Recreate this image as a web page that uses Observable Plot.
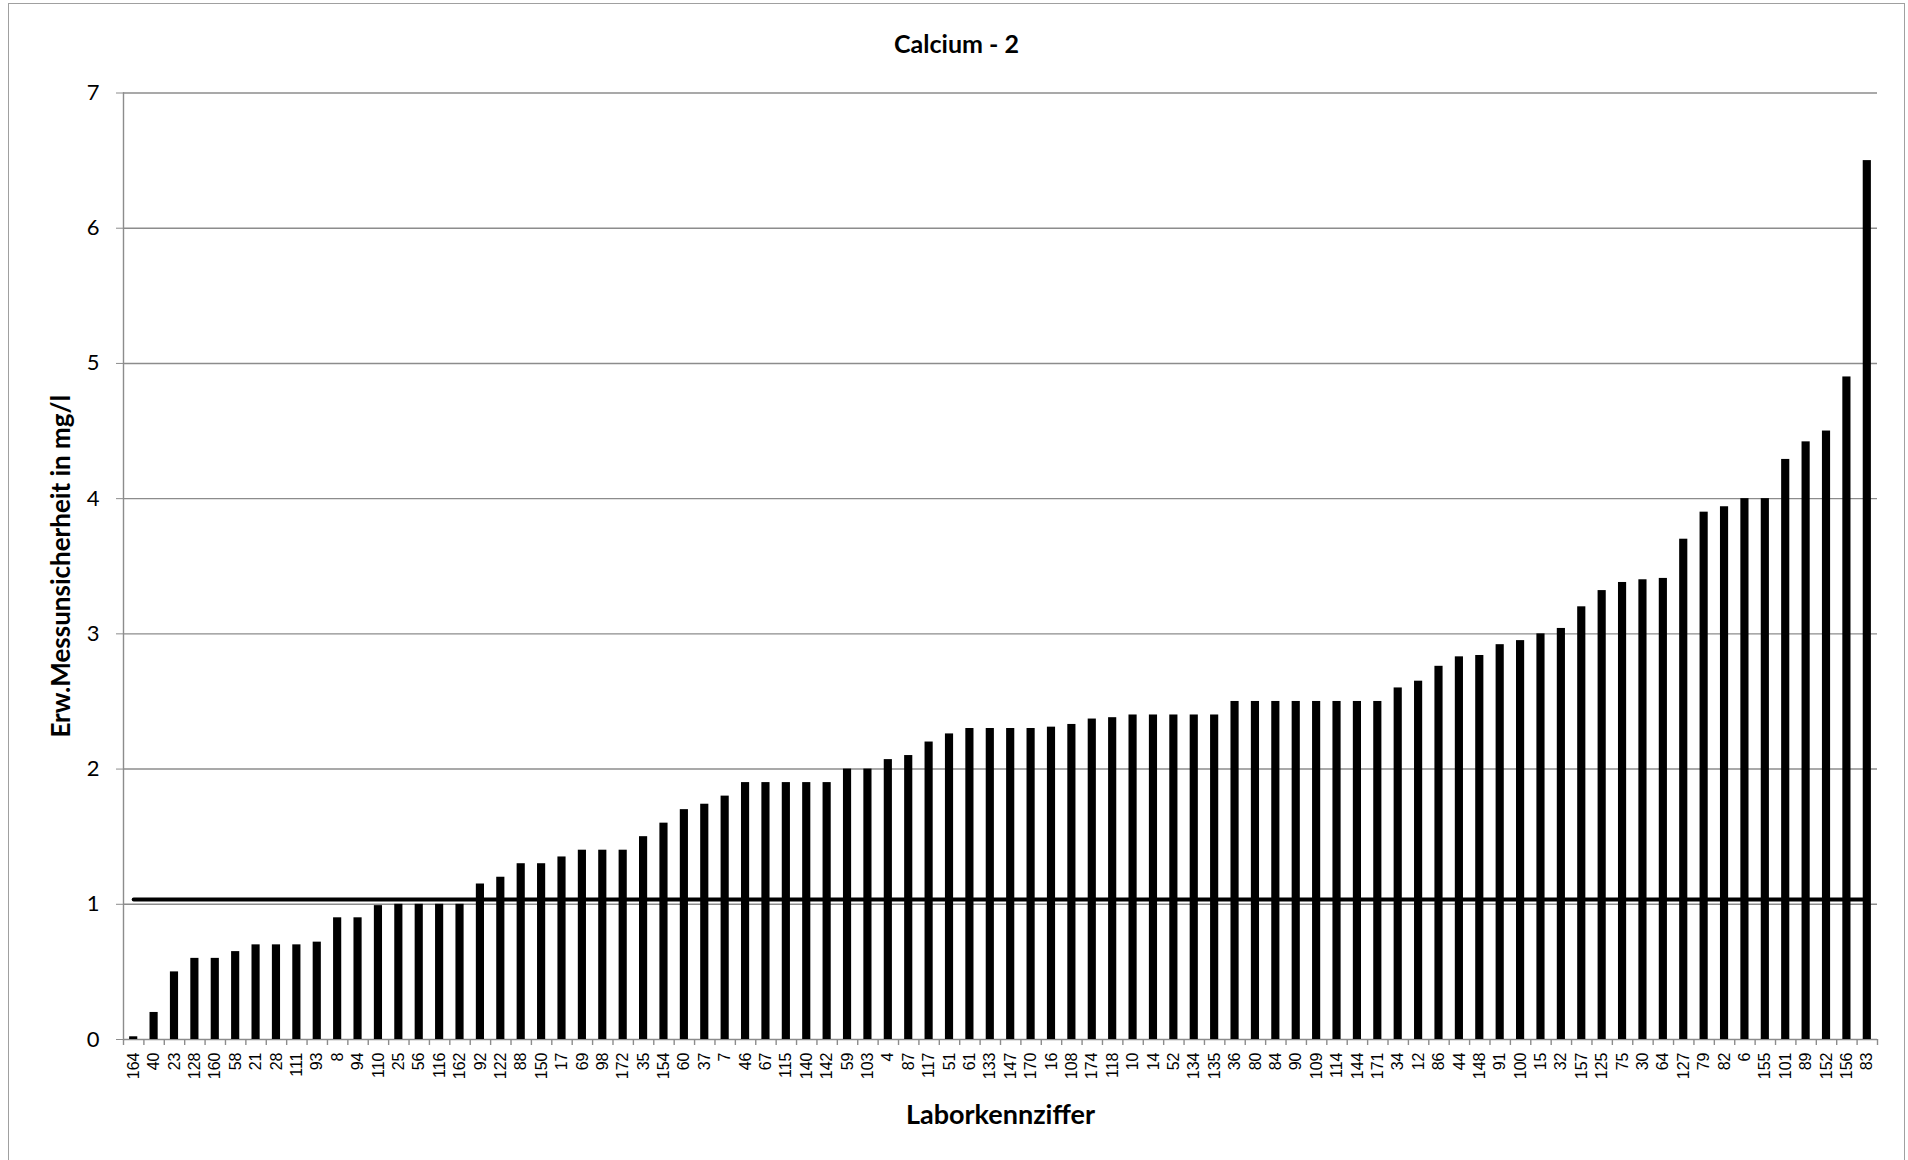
<!DOCTYPE html>
<html><head><meta charset="utf-8">
<script src="https://cdn.jsdelivr.net/npm/d3@7"></script>
<script src="https://cdn.jsdelivr.net/npm/@observablehq/plot@0.6"></script>
<style>
html,body{margin:0;padding:0;background:#fff;overflow:hidden;}
#wrap{position:relative;width:1908px;height:1160px;}
#wrap svg{position:absolute;left:0;top:0;}
#border{position:absolute;left:8px;top:3px;width:1897px;height:1180px;border:1.5px solid #a0a0a0;box-sizing:border-box;pointer-events:none;}
</style></head><body><div id="wrap"><div id="border"></div></div>
<script>
const title = "Calcium - 2";
const xTitle = "Laborkennziffer";
const yTitle = "Erw.Messunsicherheit in mg/l";
const labs = ["164","40","23","128","160","58","21","28","111","93","8","94","110","25","56","116","162","92","122","88","150","17","69","98","172","35","154","60","37","7","46","67","115","140","142","59","103","4","87","117","51","61","133","147","170","16","108","174","118","10","14","52","134","135","36","80","84","90","109","114","144","171","34","12","86","44","148","91","100","15","32","157","125","75","30","64","127","79","82","6","155","101","89","152","156","83"];
const vals = [0.02,0.2,0.5,0.6,0.6,0.65,0.7,0.7,0.7,0.72,0.9,0.9,0.99,1.0,1.0,1.0,1.0,1.15,1.2,1.3,1.3,1.35,1.4,1.4,1.4,1.5,1.6,1.7,1.74,1.8,1.9,1.9,1.9,1.9,1.9,2.0,2.0,2.07,2.1,2.2,2.26,2.3,2.3,2.3,2.3,2.31,2.33,2.37,2.38,2.4,2.4,2.4,2.4,2.4,2.5,2.5,2.5,2.5,2.5,2.5,2.5,2.5,2.6,2.65,2.76,2.83,2.84,2.92,2.95,3.0,3.04,3.2,3.32,3.38,3.4,3.41,3.7,3.9,3.94,4.0,4.0,4.29,4.42,4.5,4.9,6.5];
const refValue = 1.035;
const yTicks = [0,1,2,3,4,5,6,7];

const bars = labs.map((l, i) => ({lab: l, val: vals[i]}));
const refLine = labs.map(l => ({lab: l, v: refValue}));

const W = 1908, H = 1160;
const mL = 123, mR = 31, mT = 92.5, mB = 121;
const step = (W - mL - mR) / labs.length;
const grey = "#8c8c8c";

const chart = Plot.plot({
  width: W, height: H,
  marginLeft: mL, marginRight: mR, marginTop: mT, marginBottom: mB,
  style: {fontFamily: "Lato, sans-serif", background: "transparent", color: "#000"},
  x: {type: "band", domain: labs, paddingInner: 0.6, paddingOuter: 0.3, label: null},
  y: {domain: [0, 7], label: null},
  marks: [
    Plot.gridY(yTicks, {stroke: grey, strokeOpacity: 1, strokeWidth: 1.4}),
    Plot.frame({anchor: "left", stroke: grey, strokeWidth: 1.4}),
    Plot.axisY({ticks: yTicks, tickSize: 7, tickPadding: 17, fontSize: 22, stroke: grey, label: null, tickFormat: d => String(d)}),
    Plot.axisX({tickSize: 0, tickPadding: 13, tickRotate: -90, fontSize: 16, fontFamily: "Liberation Sans, Arial, sans-serif", label: null}),
    Plot.ruleX(labs, {x: d => d, y1: 0, y2: 0, dx: -step / 2, insetBottom: -6, stroke: grey, strokeWidth: 1.4}),
    Plot.ruleX(labs.slice(-1), {x: d => d, y1: 0, y2: 0, dx: step / 2, insetBottom: -6, stroke: grey, strokeWidth: 1.4}),
    Plot.barY(bars, {x: "lab", y: "val", fill: "#000"}),
    Plot.line(refLine, {x: "lab", y: "v", stroke: "#000", strokeWidth: 4, strokeLinecap: "round"}),
    Plot.text([title], {frameAnchor: "top", dy: -48.5, dx: -44, lineAnchor: "middle", textAnchor: "middle", fontWeight: "bold", fontSize: 25}),
    Plot.text([xTitle], {frameAnchor: "bottom", dy: 76, lineAnchor: "middle", textAnchor: "middle", fontWeight: "bold", fontSize: 27}),
    Plot.text([yTitle], {frameAnchor: "left", dx: -62, rotate: -90, lineAnchor: "middle", textAnchor: "middle", fontWeight: "bold", fontSize: 26})
  ]
});
document.getElementById("wrap").appendChild(chart);
</script>
</body></html>
